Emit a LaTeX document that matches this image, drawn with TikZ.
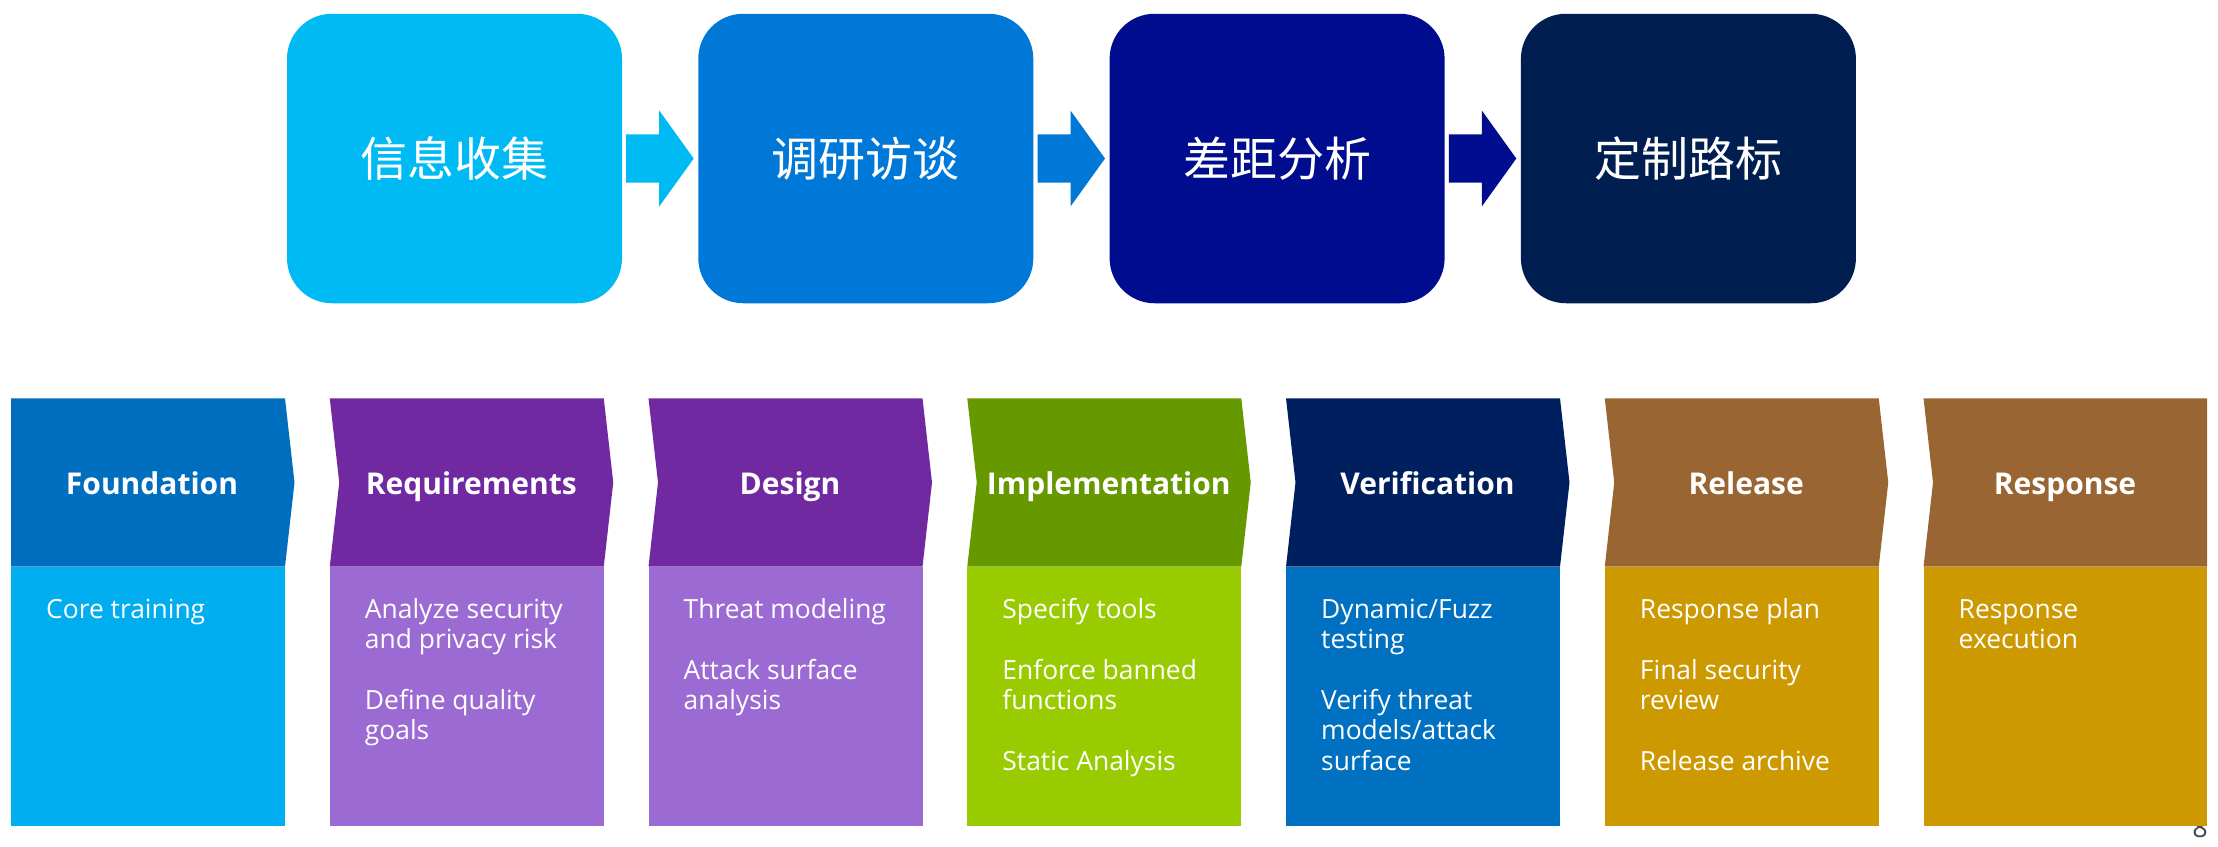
\documentclass[tikz,border=0pt]{standalone}
\usepackage{fontspec}
\setmainfont{Open Sans}
\newfontfamily\cjk{Noto Sans CJK SC}
\usetikzlibrary{calc}
\definecolor{tA}{HTML}{00BBF3}
\definecolor{tB}{HTML}{0078D7}
\definecolor{tC}{HTML}{000D8E}
\definecolor{tD}{HTML}{001F50}
\definecolor{fH}{HTML}{006EBF}
\definecolor{fB}{HTML}{00ADEF}
\definecolor{pH}{HTML}{7029A0}
\definecolor{pB}{HTML}{9B6BD3}
\definecolor{gH}{HTML}{669900}
\definecolor{gB}{HTML}{99CC00}
\definecolor{vH}{HTML}{001F5F}
\definecolor{vB}{HTML}{0070C0}
\definecolor{rH}{HTML}{996633}
\definecolor{rB}{HTML}{CC9900}
\definecolor{pgnum}{HTML}{404650}
\tikzset{
  topbox/.style={rounded corners=45pt, minimum width=335pt, minimum height=289.5pt,
    inner sep=0pt, draw=none, text=white, font=\cjk\fontsize{47}{56}\selectfont},
  headtext/.style={anchor=base, inner sep=0pt, text=white, font=\bfseries\fontsize{30}{36}\selectfont},
  bodytext/.style={anchor=base west, inner sep=0pt, text=white, font=\fontsize{26.4}{30}\selectfont},
}
\begin{document}
\begin{tikzpicture}[x=1pt,y=-1pt]
\useasboundingbox (0,0) rectangle (2218,846);
\fill[white] (0,0) rectangle (2218,846);

% ---- top row ----
\node[topbox, fill=tA] (b1) at (454.5,158.5) {信息收集};
\node[topbox, fill=tB] (b2) at (865.8,158.5) {调研访谈};
\node[topbox, fill=tC] (b3) at (1277.1,158.5) {差距分析};
\node[topbox, fill=tD] (b4) at (1688.4,158.5) {定制路标};
\foreach \i/\c in {1/tA,2/tB,3/tC}{
  \fill[\c] ($(b\i.east)+(4,-24.2)$) -- ($(b\i.east)+(37,-24.2)$) -- ($(b\i.east)+(37,-48)$)
    -- ($(b\i.east)+(71.5,0)$) -- ($(b\i.east)+(37,48)$) -- ($(b\i.east)+(37,24.2)$)
    -- ($(b\i.east)+(4,24.2)$) -- cycle;
}

% ---- page number (partly hidden) ----
\node[anchor=base, inner sep=0pt, text=pgnum, font=\fontsize{27}{30}\selectfont] (pg) at (2200,837) {8};

% ---- bottom row ----
% Foundation (flat left)
\fill[fH] (11,398.3) -- (285,398.3) -- (294.5,482.5) -- (285,566.7) -- (11,566.7) -- cycle;
\fill[fB] (11,566.7) rectangle (285,825.7);
\node[headtext] (h0) at (152,494.3) {Foundation};

% middle columns
\foreach \i/\hc/\bc/\ti in {1/pH/pB/Requirements,2/pH/pB/Design,3/gH/gB/Implementation,4/vH/vB/Verification,5/rH/rB/Release}{
  \pgfmathsetmacro\L{11+318.75*\i}
  \fill[\hc] (\L,398.3) -- (\L+274,398.3) -- (\L+283.5,482.5) -- (\L+274,566.7)
    -- (\L,566.7) -- (\L+9.5,482.5) -- cycle;
  \fill[\bc] (\L,566.7) rectangle (\L+274,825.7);
  \node[headtext] (h\i) at (\L+141.5,494.3) {\ti};
}

% Response (flat right)
\fill[rH] (1923.5,398.3) -- (2207,398.3) -- (2207,566.7) -- (1923.5,566.7) -- (1933,482.5) -- cycle;
\fill[rB] (1923.5,566.7) rectangle (2207,825.7);
\node[headtext] (h6) at (2065,494.3) {Response};

% body texts
\foreach \k/\t in {0/Core training}
  \node[bodytext] (t0-\k) at (46,618.3+30.4*\k) {\t};
\foreach \k/\t in {0/Analyze security,1/and privacy risk,3/Define quality,4/goals}
  \node[bodytext] (t1-\k) at (11+318.75+35,618.3+30.4*\k) {\t};
\foreach \k/\t in {0/Threat modeling,2/Attack surface,3/analysis}
  \node[bodytext] (t2-\k) at (11+318.75*2+35,618.3+30.4*\k) {\t};
\foreach \k/\t in {0/Specify tools,2/Enforce banned,3/functions,5/Static Analysis}
  \node[bodytext] (t3-\k) at (11+318.75*3+35,618.3+30.4*\k) {\t};
\foreach \k/\t in {0/{Dynamic/Fuzz},1/testing,3/Verify threat,4/{models/attack},5/surface}
  \node[bodytext] (t4-\k) at (11+318.75*4+35,618.3+30.4*\k) {\t};
\foreach \k/\t in {0/Response plan,2/Final security,3/review,5/Release archive}
  \node[bodytext] (t5-\k) at (11+318.75*5+35,618.3+30.4*\k) {\t};
\foreach \k/\t in {0/Response,1/execution}
  \node[bodytext] (t6-\k) at (11+318.75*6+35,618.3+30.4*\k) {\t};
\end{tikzpicture}
\end{document}
